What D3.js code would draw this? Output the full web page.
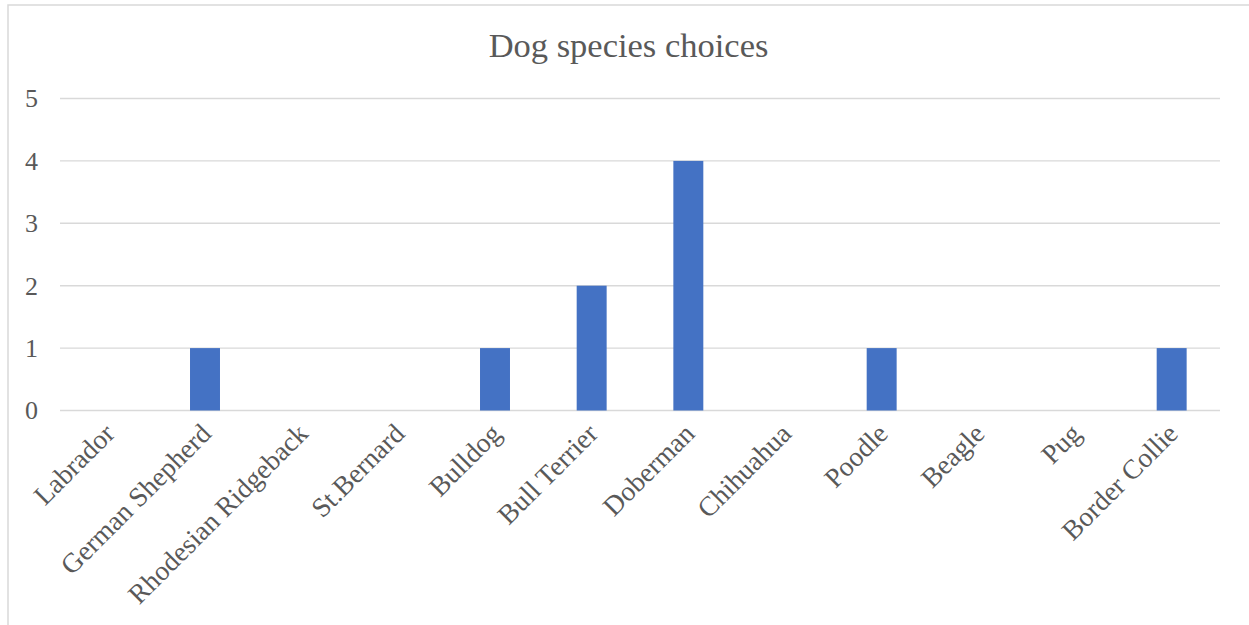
<!DOCTYPE html>
<html>
<head>
<meta charset="utf-8">
<script src="https://cdn.jsdelivr.net/npm/d3@7"></script>
<style>
  html, body { margin: 0; padding: 0; background: #ffffff; }
  svg { display: block; }
  text { font-family: "Palatino Linotype", "Book Antiqua", Palatino, "Liberation Serif", serif; fill: #595959; }
</style>
</head>
<body>
<svg id="chart" width="1249" height="625"></svg>
<script>
// Survey results: how many people picked each dog breed
const breeds = ["Labrador", "German Shepherd", "Rhodesian Ridgeback", "St.Bernard", "Bulldog",
                "Bull Terrier", "Doberman", "Chihuahua", "Poodle", "Beagle", "Pug", "Border Collie"];
const votes = [0, 1, 0, 0, 1, 2, 4, 0, 1, 0, 0, 1];
const yTicks = [0, 1, 2, 3, 4, 5];
const chartTitle = "Dog species choices";

const W = 1249, H = 625;
const svg = d3.select("#chart");

// chart area frame
svg.append("rect")
  .attr("x", 8).attr("y", 5)
  .attr("width", W + 20).attr("height", H + 20)
  .attr("fill", "#ffffff")
  .attr("stroke", "#d9d9d9").attr("stroke-width", 1.5);

const plot = { left: 60, right: 1220, top: 98.5, bottom: 410.5 };

const x = d3.scaleBand()
  .domain(breeds)
  .range([plot.left, plot.right])
  .paddingInner(0.69)
  .paddingOuter(0.345);

const y = d3.scaleLinear()
  .domain([0, 5])
  .range([plot.bottom, plot.top]);

// horizontal gridlines
svg.append("g")
  .selectAll("line")
  .data(yTicks)
  .join("line")
  .attr("x1", plot.left).attr("x2", plot.right)
  .attr("y1", d => y(d)).attr("y2", d => y(d))
  .attr("stroke", "#d9d9d9").attr("stroke-width", 1.4);

// y axis labels
const yAxis = d3.axisLeft(y).tickValues(yTicks).tickFormat(d3.format("d")).tickSize(0).tickPadding(0);
const gy = svg.append("g")
  .attr("transform", "translate(38,0)")
  .call(yAxis);
gy.select(".domain").remove();
gy.selectAll("text")
  .attr("font-size", 26)
  .attr("fill", "#595959")
  .style("font-family", null);

// bars
svg.append("g")
  .selectAll("rect")
  .data(breeds.map((b, i) => ({ b, v: votes[i] })))
  .join("rect")
  .attr("x", d => x(d.b))
  .attr("width", x.bandwidth())
  .attr("y", d => y(d.v))
  .attr("height", d => y(0) - y(d.v))
  .attr("fill", "#4472c4");

// x axis labels, slanted
const xAxis = d3.axisBottom(x).tickSize(0).tickPadding(0);
const gx = svg.append("g")
  .attr("transform", `translate(0,${plot.bottom})`)
  .call(xAxis);
gx.select(".domain").remove();
gx.selectAll(".tick text")
  .attr("font-size", 27.5)
  .attr("fill", "#595959")
  .style("font-family", null)
  .attr("text-anchor", "end")
  .attr("x", 0).attr("y", 0).attr("dy", "0.35em")
  .attr("transform", "translate(1,18) rotate(-45)");

// title
svg.append("text")
  .attr("x", 628.5).attr("y", 57)
  .attr("text-anchor", "middle")
  .attr("font-size", 34.5)
  .text(chartTitle);
</script>
</body>
</html>
